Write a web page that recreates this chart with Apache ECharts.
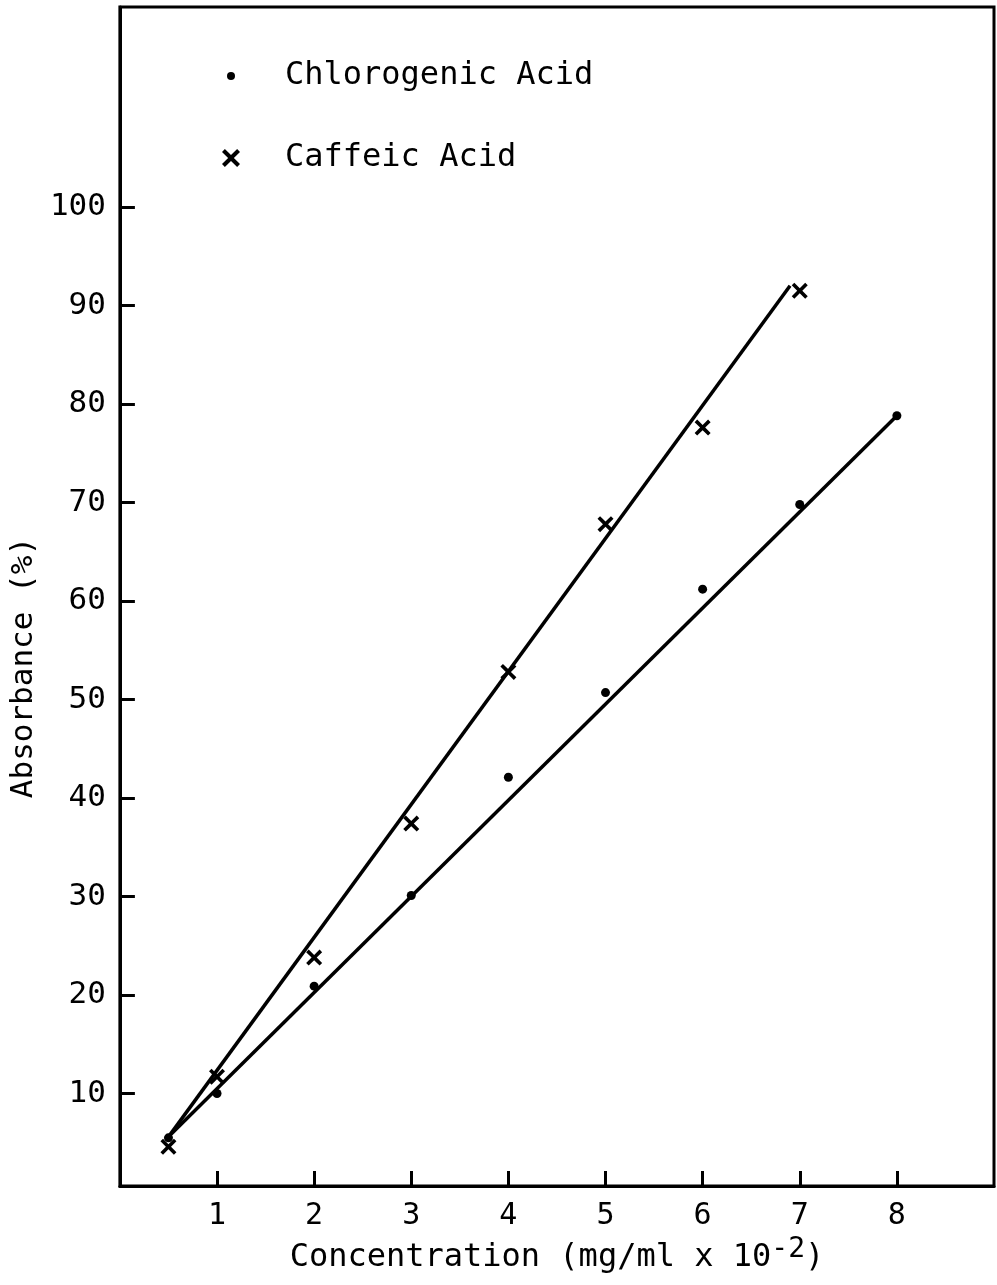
<!DOCTYPE html>
<html>
<head>
<meta charset="utf-8">
<script src="https://cdn.jsdelivr.net/npm/echarts@6/dist/echarts.min.js"></script>
<style>
html,body{margin:0;padding:0;background:#fff;}
#chart{width:997px;height:1285px;}
</style>
</head>
<body>
<div id="chart"></div>
<script>
// Data
const concentrations = [0.5, 1, 2, 3, 4, 5, 6, 7, 8];
const chlorogenicAbs = [5.5, 10.0, 20.9, 30.1, 42.1, 50.7, 61.2, 69.8, 78.8];
const caffeicConc = [0.5, 1, 2, 3, 4, 5, 6, 7];
const caffeicAbs = [4.6, 11.7, 23.8, 37.4, 52.8, 67.8, 77.6, 91.5];
// Fitted straight lines (end points)
const chlorogenicFitX = [0.5, 8];
const chlorogenicFitY = [5.6, 78.8];
const caffeicFitX = [0.5, 6.9];
const caffeicFitY = [5.6, 92.0];
const xTickValues = [1, 2, 3, 4, 5, 6, 7, 8];
const yTickValues = [10, 20, 30, 40, 50, 60, 70, 80, 90, 100];
const seriesNames = ['Chlorogenic Acid', 'Caffeic Acid'];

const FONT = 'DejaVu Sans Mono';
const crossPath = 'path://M0,1.6L1.6,0L5,3.4L8.4,0L10,1.6L6.6,5L10,8.4L8.4,10L5,6.6L1.6,10L0,8.4L3.4,5Z';

const pairs = (xs, ys) => xs.map((x, i) => [x, ys[i]]);

const chart = echarts.init(document.getElementById('chart'));
chart.setOption({
  backgroundColor: '#fff',
  animation: false,
  grid: {
    left: 119, right: 3, top: 7, bottom: 92,
    show: true, borderColor: '#000', borderWidth: 3, backgroundColor: 'transparent'
  },
  legend: [
    {
      data: [{name: seriesNames[0], icon: 'circle'}],
      left: 222, top: 55, itemWidth: 8, itemHeight: 8,
      textStyle: {fontFamily: FONT, fontSize: 32, color: '#000', padding: [0, 0, 0, 45]},
      selectedMode: false
    },
    {
      data: [{name: seriesNames[1], icon: crossPath}],
      left: 217, top: 137, itemWidth: 18, itemHeight: 18,
      textStyle: {fontFamily: FONT, fontSize: 32, color: '#000', padding: [0, 0, 0, 40]},
      selectedMode: false
    }
  ],
  xAxis: {
    type: 'value', min: 0, max: 9, interval: 1,
    splitLine: {show: false},
    axisLine: {lineStyle: {color: '#000', width: 3}},
    axisTick: {inside: true, length: 15, lineStyle: {color: '#000', width: 3}, customValues: xTickValues},
    axisLabel: {fontFamily: FONT, fontSize: 30, color: '#000', margin: 15, customValues: xTickValues},
    name: '{a|Concentration (mg/ml x 10}{s|-2}{a|)}',
    nameLocation: 'middle', nameGap: 38,
    nameTextStyle: {
      rich: {
        a: {fontFamily: FONT, fontSize: 32, color: '#000', lineHeight: 36},
        s: {fontFamily: FONT, fontSize: 28, color: '#000', lineHeight: 36, padding: [0, 0, 16, 0]}
      }
    }
  },
  yAxis: {
    type: 'value', min: 0.6, max: 120.3,
    splitLine: {show: false},
    axisLine: {lineStyle: {color: '#000', width: 3}},
    axisTick: {inside: true, length: 15, lineStyle: {color: '#000', width: 3}, customValues: yTickValues},
    axisLabel: {fontFamily: FONT, fontSize: 31, color: '#000', margin: 14, customValues: yTickValues},
    name: 'Absorbance (%)',
    nameLocation: 'middle', nameGap: 72,
    nameTextStyle: {fontFamily: FONT, fontSize: 31, color: '#000', padding: [0, 142, 0, 0]}
  },
  series: [
    {
      name: 'fit-chlorogenic', type: 'line', data: pairs(chlorogenicFitX, chlorogenicFitY),
      symbol: 'none', lineStyle: {color: '#000', width: 3.5}, silent: true, z: 2
    },
    {
      name: 'fit-caffeic', type: 'line', data: pairs(caffeicFitX, caffeicFitY),
      symbol: 'none', lineStyle: {color: '#000', width: 3.5}, silent: true, z: 2
    },
    {
      name: seriesNames[0], type: 'scatter', data: pairs(concentrations, chlorogenicAbs),
      symbol: 'circle', symbolSize: 9, itemStyle: {color: '#000', opacity: 1}, z: 3
    },
    {
      name: seriesNames[1], type: 'scatter', data: pairs(caffeicConc, caffeicAbs),
      symbol: crossPath, symbolSize: 16, itemStyle: {color: '#000', opacity: 1}, z: 3
    }
  ]
});
</script>
</body>
</html>
